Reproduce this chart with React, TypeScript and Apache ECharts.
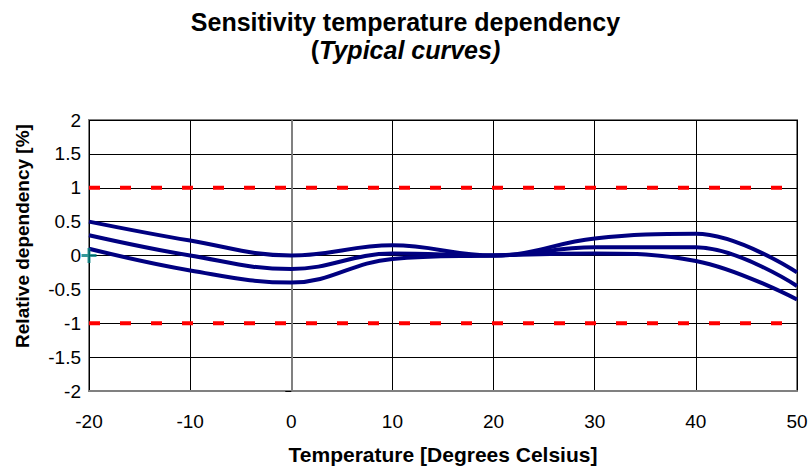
import React, { useEffect, useRef } from "react";
import * as echarts from "echarts";

const temps = [-20, -10, 0, 10, 20, 30, 40, 50];
const curveA = [0.5, 0.22, 0.0, 0.15, 0.0, 0.25, 0.32, -0.25];
const curveB = [0.3, 0.0, -0.2, 0.03, 0.0, 0.12, 0.12, -0.45];
const curveC = [0.1, -0.22, -0.4, -0.05, 0.0, 0.03, -0.08, -0.65];
const limitUpper = 1;
const limitLower = -1;
const refPoint = [-20, 0];

const FONT = "Liberation Sans, Arial, sans-serif";

export default function App() {
  const ref = useRef<HTMLDivElement>(null);
  useEffect(() => {
    if (!ref.current) return;
    const chart = echarts.init(ref.current, null, { renderer: "svg" });
    const pair = (ys: number[]) => temps.map((t, i) => [t, ys[i]]);
    const curve = (name: string, ys: number[]) => ({
      name,
      type: "line",
      data: pair(ys),
      smooth: 0.4,
      showSymbol: false,
      symbol: "none",
      lineStyle: { color: "#000080", width: 4 },
      z: 5,
    });
    const limit = (name: string, v: number) => ({
      name,
      type: "line",
      data: [
        [temps[0], v],
        [temps[temps.length - 1], v],
      ],
      symbol: "none",
      lineStyle: { color: "#ff0000", width: 4, type: [11, 20] },
      z: 4,
    });
    chart.setOption({
      animation: false,
      backgroundColor: "#ffffff",
      textStyle: { fontFamily: FONT },
      title: [
        {
          text: "Sensitivity temperature dependency",
          left: "center",
          top: 4,
          textStyle: { fontFamily: FONT, fontSize: 25, fontWeight: "bold", color: "#000" },
        },
        {
          text: "{b|(}{bi|Typical curves)}",
          left: "center",
          top: 32,
          textStyle: {
            fontFamily: FONT,
            fontSize: 25,
            color: "#000",
            rich: {
              b: { fontFamily: FONT, fontSize: 25, fontWeight: "bold", color: "#000" },
              bi: { fontFamily: FONT, fontSize: 25, fontWeight: "bold", fontStyle: "italic", color: "#000" },
            },
          },
        },
      ],
      grid: {
        left: 89,
        right: 14,
        top: 120,
        bottom: 71,
        show: true,
        borderColor: "#808080",
        borderWidth: 2,
        backgroundColor: "#ffffff",
      },
      xAxis: {
        type: "value",
        min: -20,
        max: 50,
        interval: 10,
        name: "Temperature [Degrees Celsius]",
        nameLocation: "middle",
        nameGap: 53,
        nameTextStyle: { fontFamily: FONT, fontSize: 21, fontWeight: "bold", color: "#000" },
        axisLine: { onZero: false, lineStyle: { color: "#808080", width: 2 } },
        axisTick: { show: false },
        axisLabel: { fontFamily: FONT, fontSize: 19, color: "#000", margin: 21 },
        splitLine: { show: true, lineStyle: { color: "#000000", width: 1 } },
      },
      yAxis: {
        type: "value",
        min: -2,
        max: 2,
        interval: 0.5,
        name: "Relative dependency [%]",
        nameLocation: "middle",
        nameGap: 57,
        nameTextStyle: {
          fontFamily: FONT,
          fontSize: 19,
          fontWeight: "bold",
          color: "#000",
          padding: [0, 0, 0, 39],
        },
        axisLine: { show: true, lineStyle: { color: "#808080", width: 2 } },
        axisTick: { show: true, length: 6, lineStyle: { color: "#000", width: 1 } },
        axisLabel: { fontFamily: FONT, fontSize: 19, color: "#000", margin: 8 },
        splitLine: { show: true, lineStyle: { color: "#000000", width: 1 } },
      },
      series: [
        limit("Upper limit", limitUpper),
        limit("Lower limit", limitLower),
        curve("Curve 1", curveA),
        curve("Curve 2", curveB),
        curve("Curve 3", curveC),
        {
          name: "Reference",
          type: "scatter",
          data: [refPoint],
          symbol: "path://M6,0H9V6H15V9H9V15H6V9H0V6H6Z",
          symbolSize: 15,
          itemStyle: { color: "#008080" },
          clip: false,
          z: 6,
        },
      ],
    });
    return () => chart.dispose();
  }, []);
  return <div ref={ref} style={{ width: 811, height: 470, position: "absolute", left: 0, top: 0 }} />;
}
